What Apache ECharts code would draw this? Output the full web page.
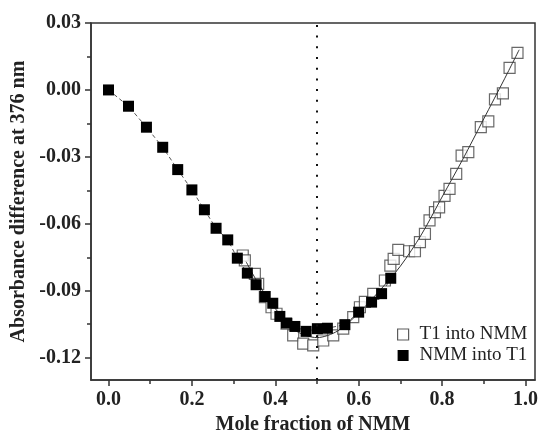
<!DOCTYPE html>
<html>
<head>
<meta charset="utf-8">
<script src="https://cdn.jsdelivr.net/npm/echarts@6/dist/echarts.min.js"></script>
<style>
html,body{margin:0;padding:0;background:#fff;}
#c{width:541px;height:445px;}
</style>
</head>
<body>
<div id="c"></div>
<script>
// ---- data ----
var nmmIntoT1X = [0.000, 0.048, 0.091, 0.130, 0.166, 0.200, 0.230, 0.258, 0.286, 0.309, 0.333, 0.354, 0.375, 0.394, 0.411, 0.427, 0.447, 0.474, 0.501, 0.525, 0.567, 0.600, 0.631, 0.655, 0.677];
var nmmIntoT1Y = [0.000, -0.0073, -0.0167, -0.0257, -0.0357, -0.0448, -0.0537, -0.0620, -0.0672, -0.0754, -0.0821, -0.0873, -0.0926, -0.0956, -0.1015, -0.1045, -0.1060, -0.1082, -0.1070, -0.1068, -0.1052, -0.0996, -0.0951, -0.0913, -0.0844];

var t1IntoNmmX = [0.322, 0.327, 0.351, 0.359, 0.375, 0.391, 0.403, 0.427, 0.443, 0.467, 0.491, 0.515, 0.539, 0.563, 0.587, 0.603, 0.615, 0.635, 0.663, 0.676, 0.684, 0.695, 0.721, 0.735, 0.747, 0.759, 0.770, 0.783, 0.793, 0.806, 0.818, 0.834, 0.847, 0.863, 0.893, 0.911, 0.927, 0.946, 0.962, 0.981];
var t1IntoNmmY = [-0.0742, -0.0764, -0.0824, -0.0869, -0.0929, -0.0974, -0.1003, -0.1048, -0.1100, -0.1137, -0.1145, -0.1123, -0.1100, -0.1070, -0.1018, -0.0974, -0.0950, -0.0914, -0.0854, -0.0787, -0.0757, -0.0717, -0.0723, -0.0723, -0.0682, -0.0645, -0.0585, -0.0548, -0.0526, -0.0475, -0.0443, -0.0376, -0.0294, -0.0279, -0.0167, -0.0141, -0.0042, -0.0015, 0.0099, 0.0166];

var fitX = [0.33, 0.36, 0.40, 0.45, 0.50, 0.55, 0.60, 0.65, 0.70, 0.75, 0.80, 0.85, 0.90, 0.95, 0.985];
var fitY = [-0.077, -0.087, -0.098, -0.108, -0.111, -0.108, -0.100, -0.090, -0.079, -0.065, -0.048, -0.031, -0.013, 0.005, 0.018];

var xMajorTicks = [0.0, 0.2, 0.4, 0.6, 0.8, 1.0];
var xMinorTicks = [0.1, 0.3, 0.5, 0.7, 0.9];
var yMajorTicks = [-0.12, -0.09, -0.06, -0.03, 0.00, 0.03];
var yMinorTicks = [-0.105, -0.075, -0.045, -0.015, 0.015];

var seriesNames = ['T1 into NMM', 'NMM into T1'];
var xTitle = 'Mole fraction of NMM';
var yTitle = 'Absorbance difference at 376 nm';
var dividerX = 0.5;

function zip(a, b) { return a.map(function (v, i) { return [v, b[i]]; }); }

var X_MIN = -0.042, X_MAX = 1.023, Y_MIN = -0.130, Y_MAX = 0.030;
var ink = '#222';
var font = 'Liberation Serif, Times New Roman, serif';

var chart = echarts.init(document.getElementById('c'), null, {renderer: 'canvas'});
chart.setOption({
  animation: false,
  backgroundColor: '#fff',
  grid: {left: 91, top: 23, width: 444, height: 357, show: true, borderColor: '#333', borderWidth: 1.5, backgroundColor: 'transparent'},
  xAxis: [{
    type: 'value', min: X_MIN, max: X_MAX, position: 'bottom',
    name: xTitle, nameLocation: 'middle', nameGap: 35,
    nameTextStyle: {fontFamily: font, fontWeight: 'bold', fontSize: 20, color: ink},
    axisLine: {show: true, onZero: false, lineStyle: {color: '#333', width: 1.5}},
    axisTick: {show: true, customValues: xMajorTicks, length: 6, lineStyle: {color: '#333', width: 1.5}},
    axisLabel: {show: true, customValues: xMajorTicks, margin: 10, fontFamily: font, fontWeight: 'bold', fontSize: 20, color: ink,
      formatter: function (v) { return v.toFixed(1); }},
    splitLine: {show: false}
  }, {
    type: 'value', min: X_MIN, max: X_MAX, position: 'bottom', gridIndex: 0,
    axisLine: {show: false, onZero: false},
    axisTick: {show: true, customValues: xMinorTicks, length: 4, lineStyle: {color: '#333', width: 1.5}},
    axisLabel: {show: false},
    splitLine: {show: false}
  }],
  yAxis: [{
    type: 'value', min: Y_MIN, max: Y_MAX, position: 'left',
    name: yTitle, nameLocation: 'middle', nameGap: 62, nameRotate: 90,
    nameTextStyle: {fontFamily: font, fontWeight: 'bold', fontSize: 20, color: ink},
    axisLine: {show: true, onZero: false, lineStyle: {color: '#333', width: 1.5}},
    axisTick: {show: true, customValues: yMajorTicks, length: 6, lineStyle: {color: '#333', width: 1.5}},
    axisLabel: {show: true, customValues: yMajorTicks, margin: 10, fontFamily: font, fontWeight: 'bold', fontSize: 20, color: ink,
      formatter: function (v) { return v.toFixed(2); }},
    splitLine: {show: false}
  }, {
    type: 'value', min: Y_MIN, max: Y_MAX, position: 'left',
    axisLine: {show: false, onZero: false},
    axisTick: {show: true, customValues: yMinorTicks, length: 4, lineStyle: {color: '#333', width: 1.5}},
    axisLabel: {show: false},
    splitLine: {show: false}
  }],
  legend: {
    orient: 'vertical', left: 392, top: 320, itemWidth: 11, itemHeight: 11, itemGap: 2,
    textStyle: {fontFamily: font, fontSize: 19, color: ink, padding: [0, 0, 0, 6]},
    data: [
      {name: seriesNames[0], icon: 'rect', itemStyle: {color: '#fff', borderColor: '#333', borderWidth: 1.2}},
      {name: seriesNames[1], icon: 'rect', itemStyle: {color: '#000', borderWidth: 0}}
    ]
  },
  series: [{
    name: seriesNames[0], type: 'scatter', symbol: 'rect', symbolSize: 11,
    itemStyle: {color: '#fff', borderColor: '#444', borderWidth: 1.2},
    data: zip(t1IntoNmmX, t1IntoNmmY), z: 2
  }, {
    name: 'fit', type: 'line', smooth: 0.3, showSymbol: false, symbol: 'none',
    lineStyle: {color: '#333', width: 1}, data: zip(fitX, fitY), z: 3,
    markLine: {silent: true, symbol: 'none', label: {show: false},
      lineStyle: {color: '#111', width: 2, type: [2, 8.7]},
      data: [{xAxis: dividerX}]}
  }, {
    name: seriesNames[1], type: 'line', symbol: 'rect', symbolSize: 11, showSymbol: true,
    itemStyle: {color: '#000'},
    lineStyle: {color: '#555', width: 1, type: [4, 3]},
    data: zip(nmmIntoT1X, nmmIntoT1Y), z: 4
  }]
});
</script>
</body>
</html>
